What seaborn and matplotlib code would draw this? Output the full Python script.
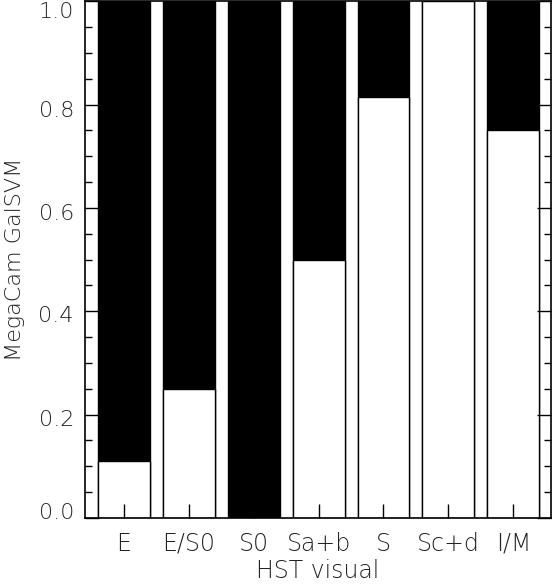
import numpy as np
import pandas as pd
import matplotlib
matplotlib.use("Agg")
import matplotlib.pyplot as plt
import matplotlib.transforms as mtransforms
import seaborn as sns
from matplotlib.ticker import MultipleLocator

# HST visual classes and fraction classified as early type by GalSVM
classes = ["E", "E/S0", "S0", "Sa+b", "S", "Sc+d", "I/M"]
fraction = [0.11, 0.25, 0.0, 0.50, 0.815, 1.0, 0.75]
total = [1.0] * len(classes)

df = pd.DataFrame({"cls": classes, "frac": fraction, "total": total})

sns.set_style("ticks")
plt.rcParams["font.family"] = ["DejaVu Sans"]
plt.rcParams["font.weight"] = "light"
plt.rcParams["axes.labelweight"] = "light"
plt.rcParams["axes.axisbelow"] = False
plt.rcParams["xtick.direction"] = "in"
plt.rcParams["ytick.direction"] = "in"
plt.rcParams["text.color"] = "#222222"
plt.rcParams["axes.labelcolor"] = "#222222"
plt.rcParams["xtick.labelcolor"] = "#222222"
plt.rcParams["ytick.labelcolor"] = "#222222"
plt.rcParams["xtick.color"] = "black"
plt.rcParams["ytick.color"] = "black"

fig = plt.figure(figsize=(5.52, 5.84), dpi=100)
ax = fig.add_axes([0.154, 0.113, 0.844, 0.885])

# black part = full bar, white part drawn on top
sns.barplot(data=df, x="cls", y="total", color="black", saturation=1,
            width=0.8, edgecolor="black", linewidth=1, ax=ax)
sns.barplot(data=df, x="cls", y="frac", color="white", saturation=1,
            width=0.8, edgecolor="black", linewidth=1, ax=ax)
ax.set_axisbelow(False)

ax.set_xlim(-0.6, 6.58)
ax.set_ylim(0, 1.0)
ax.yaxis.set_minor_locator(MultipleLocator(0.05))
ax.set_yticks(np.arange(0, 1.01, 0.2))
ax.set_yticklabels([f"{v:.1f}" for v in np.arange(0, 1.01, 0.2)])

ax.tick_params(axis="both", which="major", direction="in", length=10, width=1,
               top=False, right=True)
ax.tick_params(axis="y", which="minor", direction="in", length=5, width=1,
               right=True, left=True)
ax.tick_params(axis="x", pad=10, labelsize=17)
ax.tick_params(axis="y", pad=8, labelsize=16)

# IDL-like label placement: a bit below the tick, kept inside the frame
shifts = [7, -3, -3, -4, -4, -9]
for lab, dy in zip(ax.get_yticklabels(), shifts):
    lab.set_transform(lab.get_transform() +
                      mtransforms.ScaledTranslation(0, dy / 100, fig.dpi_scale_trans))

for s in ax.spines.values():
    s.set_linewidth(1.2)
    s.set_color("black")

ax.set_xlabel("HST visual", fontsize=17, fontweight="light")
ax.set_ylabel("MegaCam GalSVM", fontsize=16, fontweight="light")
ax.xaxis.set_label_coords(0.5, -0.08)
ax.yaxis.set_label_coords(-0.129, 0.5)

fig.savefig("out.png", dpi=100)
